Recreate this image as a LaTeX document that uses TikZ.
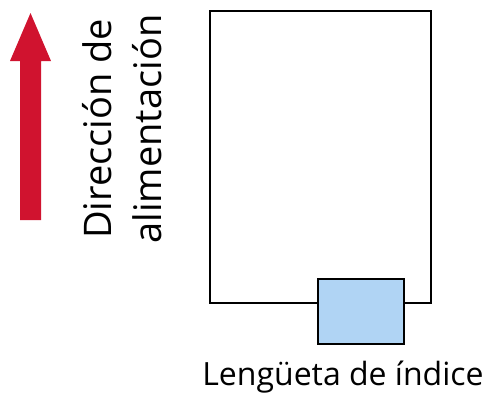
\documentclass[tikz,border=0pt]{standalone}
\usepackage{fontspec}
\setmainfont{Open Sans}
\definecolor{feedred}{HTML}{D0132F}
\definecolor{tabblue}{HTML}{B0D4F4}
\tikzset{
  outline/.style={draw, line width=2.6pt, inner sep=0pt}
}
\begin{document}
\begin{tikzpicture}[x=1pt,y=-1pt]
\useasboundingbox (0,0) rectangle (489,394);
% feed arrow
\fill[feedred] (20,220) -- (20,61) -- (10,61) -- (30.5,13) -- (51,61) -- (41,61) -- (41,220) -- cycle;
\node[rotate=90, align=center, inner sep=0pt, font=\fontsize{38}{50}\selectfont] (feedlabel) at (122,129) {Dirección de\\alimentación};
% sheet and index tab
\node[outline, minimum width=221pt, minimum height=292pt] (sheet) at (320.5,157) {};
\node[outline, fill=tabblue, minimum width=86pt, minimum height=65pt] (tab) at (361,311.5) {};
\node[font=\fontsize{32}{36}\selectfont, anchor=base] (tablabel) at (343,385.5) {Lengüeta de índice};
\end{tikzpicture}
\end{document}
